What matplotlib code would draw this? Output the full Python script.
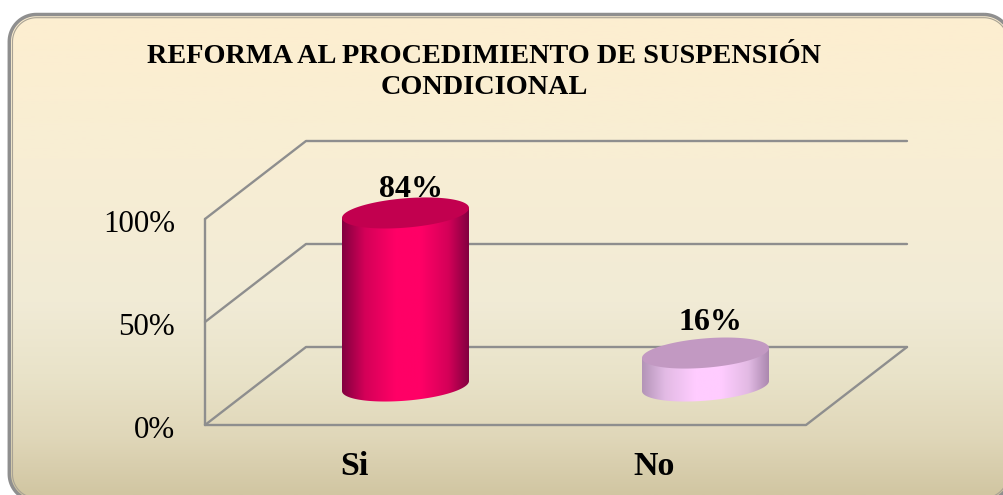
import matplotlib
matplotlib.use('Agg')
import matplotlib.pyplot as plt
import numpy as np
from matplotlib.colors import LinearSegmentedColormap
from matplotlib.patches import Polygon

categories = ['Si', 'No']
values = [84, 16]
value_labels = ['84%', '16%']
ticks = [0, 50, 100]
tick_labels = ['0%', '50%', '100%']
title_lines = ['REFORMA AL PROCEDIMIENTO DE SUSPENSIÓN', 'CONDICIONAL']

side_colors = [
    ['#820040', '#d40058', '#ff0066', '#ff0066', '#d40058', '#820040'],
    ['#b394b7', '#e2bae4', '#ffccff', '#ffccff', '#e2bae4', '#ab88af'],
]
top_colors = ['#c2004f', '#c299c2']

W, H = 1004, 495
plt.rcParams['font.family'] = ['Liberation Serif', 'DejaVu Serif']

fig = plt.figure(figsize=(W / 100, H / 100), dpi=100, facecolor='white')


def rounded_rect(x0, y0, x1, y1, r):
    pts = []
    for cx, cy, start in [(x1 - r, y0 + r, -90), (x1 - r, y1 - r, 0), (x0 + r, y1 - r, 90), (x0 + r, y0 + r, 180)]:
        t = np.radians(np.linspace(start, start + 90, 24))
        pts.append(np.column_stack([cx + r * np.cos(t), cy + r * np.sin(t)]))
    return np.vstack(pts)


# Background panel, in pixels.
bg = fig.add_axes([0, 0, 1, 1])
bg.axis('off')

bg_cmap = LinearSegmentedColormap.from_list('bg', [
    (0.0, '#fdeed0'),
    (0.3, '#f8eed4'),
    (0.6, '#f1ebd6'),
    (0.75, '#e9e3c9'),
    (0.88, '#e0d7b9'),
    (1.0, '#d1c6a2'),
])
grad = np.linspace(0, 1, 256).reshape(-1, 1)
im = bg.imshow(grad, cmap=bg_cmap, extent=(0, W, H, 14), aspect='auto', zorder=1)

clip = Polygon(rounded_rect(9, 14, 1011, 501, 27), closed=True, fc='none', ec='none')
bg.add_patch(clip)
im.set_clip_path(clip)
bg.add_patch(Polygon(rounded_rect(9.3, 14.5, 1011, 501, 27), closed=True, fc='none', ec='#8f8f8f', lw=2.5, zorder=3))
bg.add_patch(Polygon(rounded_rect(12.5, 17.7, 1008, 498, 24), closed=True, fc='none', ec='#a8a294', lw=0.8, zorder=3))
bg.set_xlim(0, W)
bg.set_ylim(H, 0)

# Chart axes: x is the category, y is the percent on the middle of the floor.
px_x = 300.0
px_y = 2.06
x0_px = 405.5
y0_px = 386.0

ax = fig.add_axes([0, 0, 1, 1])
ax.patch.set_alpha(0)
ax.axis('off')
xlim = (-x0_px / px_x, (W - x0_px) / px_x)
ylim = ((y0_px - H) / px_y, y0_px / px_y)

# Depth offset between the middle of the floor and its front or back edge.
dx = 50.5 / px_x
dv = 39.0 / px_y
left = (205 + 50.5 - x0_px) / px_x
right = (806 + 50.5 - x0_px) / px_x

grid_style = dict(color='#8e8e8e', lw=1.7, solid_capstyle='round', zorder=2)
for t in ticks:
    ax.plot([left - dx, left + dx, right + dx], [t - dv, t + dv, t + dv], **grid_style)
ax.plot([left - dx, left - dx], [ticks[0] - dv, ticks[-1] - dv], **grid_style)
ax.plot([left - dx, right - dx, right + dx], [-dv, -dv, dv], **grid_style)

# Cylinders.
a = 63.5 / px_x
tilt = 5.0 / px_y
b = 14.7 / px_y


def ring(cx, v, t):
    return np.column_stack([cx + a * np.cos(t), v + tilt * np.cos(t) + b * np.sin(t)])


label_dy = [11.5, 15]
label_dx = [0.02, 0.015]
for i, v in enumerate(values):
    low = ring(i, 0, np.linspace(np.pi, 2 * np.pi, 80))
    top_edge = ring(i, v, np.array([0, np.pi]))
    side = Polygon(np.vstack([low, top_edge]), closed=True, fc='none', ec='none')
    ax.add_patch(side)
    cmap = LinearSegmentedColormap.from_list(f'side{i}', list(zip([0, 0.18, 0.42, 0.62, 0.84, 1], side_colors[i])))
    img = ax.imshow(
        np.linspace(0, 1, 256).reshape(1, -1),
        cmap=cmap,
        extent=(i - a, i + a, -20, v + 20),
        aspect='auto',
        zorder=3,
    )
    img.set_clip_path(side)
    ax.add_patch(Polygon(ring(i, v, np.linspace(0, 2 * np.pi, 160)), closed=True,
                         fc=top_colors[i], ec='none', zorder=4))
    ax.text(i + label_dx[i], v + label_dy[i], value_labels[i], ha='center', va='center',
            fontsize=23, fontweight='bold', color='black', zorder=5)
    ax.text(i - 0.17, -39, categories[i], ha='center', va='center',
            fontsize=24.5, fontweight='bold', color='black', zorder=5)

for t, lab in zip(ticks, tick_labels):
    ax.text(left - dx - 30 / px_x, t - dv - 2.5, lab, ha='right', va='center',
            fontsize=22.3, color='black', zorder=5)

ax.set_xlim(xlim)
ax.set_ylim(ylim)

# Title, in figure coordinates.
for line, y in zip(title_lines, [63, 94]):
    fig.text(484 / W, 1 - y / H, line, ha='center', va='baseline',
             fontsize=20.3, fontweight='bold', color='black')

fig.savefig('out.png', dpi=100)
